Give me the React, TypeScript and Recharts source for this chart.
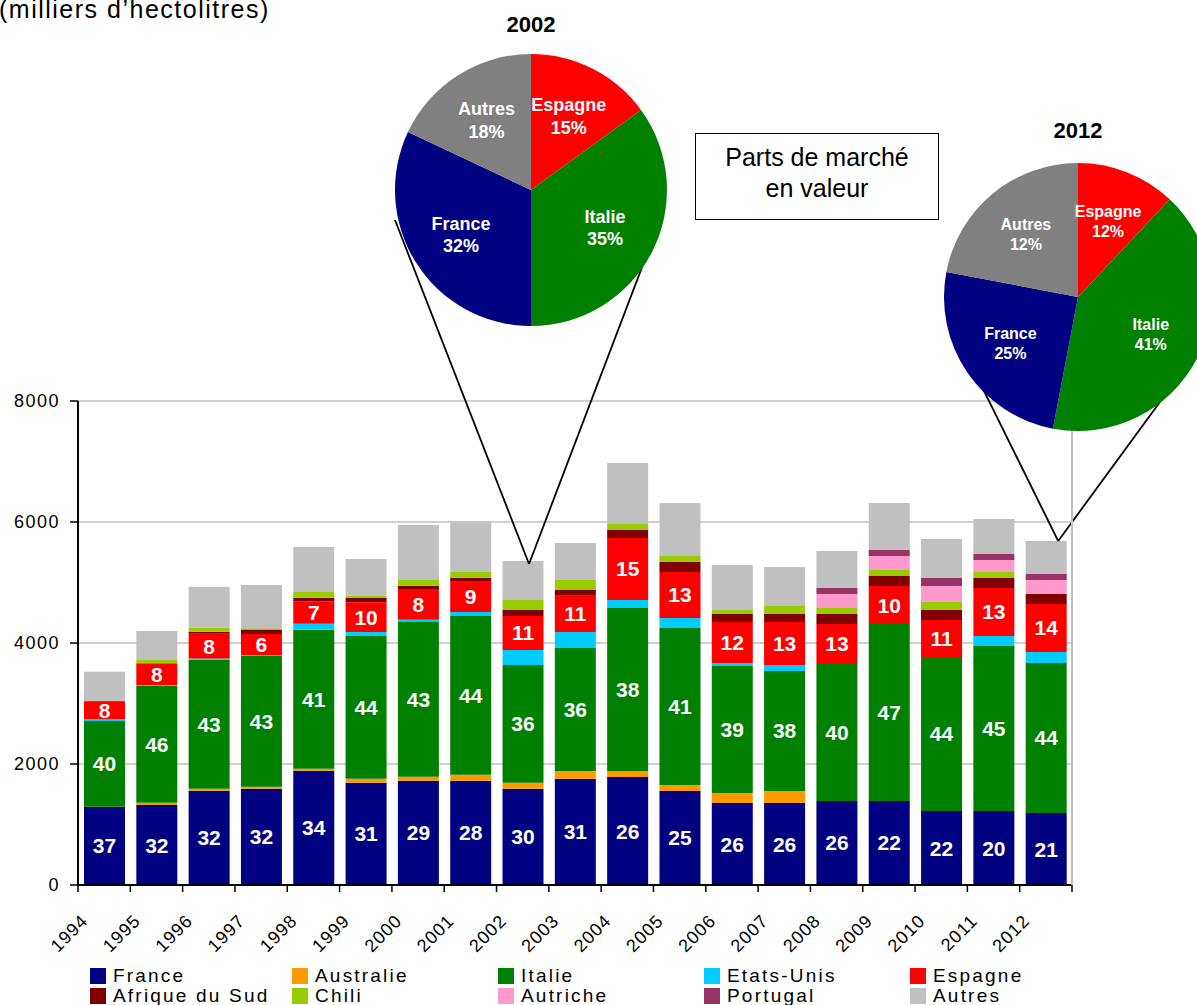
import React from "react";
import { BarChart, Bar, XAxis, YAxis, CartesianGrid, Legend, LabelList, PieChart, Pie, Cell } from "recharts";

// volumes in milliers d'hectolitres
const years = ["1994", "1995", "1996", "1997", "1998", "1999", "2000", "2001", "2002", "2003", "2004", "2005", "2006", "2007", "2008", "2009", "2010", "2011", "2012"];
const france = [1295, 1322, 1557, 1592, 1889, 1692, 1725, 1725, 1592, 1758, 1785, 1554, 1355, 1355, 1389, 1389, 1223, 1223, 1190];
const australie = [0, 39, 35, 33, 34, 66, 66, 99, 100, 126, 99, 99, 166, 199, 0, 0, 0, 0, 0];
const italie = [1416, 1934, 2133, 2160, 2298, 2358, 2556, 2623, 1945, 2034, 2695, 2595, 2099, 1983, 2264, 2925, 2546, 2727, 2480];
const etatsUnis = [33, 11, 17, 17, 99, 66, 39, 66, 248, 264, 132, 166, 50, 100, 0, 0, 0, 166, 182];
const espagne = [287, 358, 410, 346, 364, 491, 496, 500, 562, 600, 1025, 760, 677, 710, 661, 628, 611, 793, 793];
const afriqueDuSud = [15, 0, 33, 77, 66, 71, 66, 66, 99, 94, 132, 165, 133, 132, 166, 166, 166, 166, 165];
const chili = [0, 55, 66, 17, 93, 38, 94, 95, 165, 166, 99, 99, 66, 132, 99, 99, 132, 99, 0];
const autriche = [0, 0, 0, 0, 0, 0, 0, 0, 0, 0, 0, 0, 0, 0, 231, 231, 264, 198, 232];
const portugal = [0, 0, 0, 0, 0, 0, 0, 0, 0, 0, 0, 0, 0, 0, 99, 100, 133, 99, 99];
const autres = [480, 480, 678, 717, 744, 607, 909, 832, 645, 611, 1009, 876, 744, 644, 612, 776, 644, 579, 545];

// percentages printed inside the bars
const francePct = [37, 32, 32, 32, 34, 31, 29, 28, 30, 31, 26, 25, 26, 26, 26, 22, 22, 20, 21];
const italiePct = [40, 46, 43, 43, 41, 44, 43, 44, 36, 36, 38, 41, 39, 38, 40, 47, 44, 45, 44];
const espagnePct = [8, 8, 8, 6, 7, 10, 8, 9, 11, 11, 15, 13, 12, 13, 13, 10, 11, 13, 14];

const yTicks = [0, 2000, 4000, 6000, 8000];

// parts de marché en valeur
const pieNames = ["Espagne", "Italie", "France", "Autres"];
const pieColors = ["#ff0000", "#008000", "#000080", "#808080"];
const pie2002Values = [15, 35, 32, 18];
const pie2002Labels = ["15%", "35%", "32%", "18%"];
const pie2012Values = [12, 41, 25, 22];
const pie2012Labels = ["12%", "41%", "25%", "12%"];

const series = [
  { name: "France", color: "#000080", values: france, pct: francePct },
  { name: "Australie", color: "#ff9900", values: australie },
  { name: "Italie", color: "#008000", values: italie, pct: italiePct },
  { name: "Etats-Unis", color: "#00ccff", values: etatsUnis },
  { name: "Espagne", color: "#ff0000", values: espagne, pct: espagnePct },
  { name: "Afrique du Sud", color: "#800000", values: afriqueDuSud },
  { name: "Chili", color: "#99cc00", values: chili },
  { name: "Autriche", color: "#ff99cc", values: autriche },
  { name: "Portugal", color: "#993366", values: portugal },
  { name: "Autres", color: "#c0c0c0", values: autres },
];

const rows = years.map((year, i) => {
  const row: Record<string, string | number> = { year };
  series.forEach((s) => {
    row[s.name] = s.values[i];
    if (s.pct) row[s.name + "_pct"] = s.pct[i];
  });
  return row;
});

const W = 1197;
const H = 1005;
const PLOT_LEFT = 78;
const PLOT_RIGHT = 1072;
const BAND = (PLOT_RIGHT - PLOT_LEFT) / years.length;
const FONT = "'Liberation Sans', Arial, sans-serif";

// zoom lines from a bar top to the edges of its pie
const callouts = [
  { year: "2002", dx: 6, dy: 3, ends: [[395, 220], [660, 220]] },
  { year: "2012", dx: 12, dy: 0, ends: [[947, 316], [1187, 365]] },
];

const XTick = (props: any) => {
  const { x, y, payload, index } = props;
  const axisY = y - 7;
  const ax = x - 15;
  const ay = axisY + 37;
  const last = index === years.length - 1 || payload.value === years[years.length - 1];
  return (
    <g>
      <line x1={x - BAND / 2} x2={x - BAND / 2} y1={axisY} y2={axisY + 7} stroke="#000" strokeWidth={1.5} />
      {last && <line x1={x + BAND / 2} x2={x + BAND / 2} y1={axisY} y2={axisY + 7} stroke="#000" strokeWidth={1.5} />}
      <text x={ax} y={ay} textAnchor="end" fontSize={18} letterSpacing={1} fill="#000" transform={`rotate(-45 ${ax} ${ay})`}>
        {payload.value}
      </text>
    </g>
  );
};

const insideLabel = (props: any) => {
  const box = props.viewBox ?? props;
  const { x, y, width, height } = box;
  if (props.value === undefined || props.value === null) return null;
  return (
    <text x={x + width / 2} y={y + height / 2} fill="#fff" fontSize={21} fontWeight="bold" textAnchor="middle" dominantBaseline="central">
      {props.value}
    </text>
  );
};

const AutresShape = (props: any) => {
  const { x, y, width, height, fill, payload, index } = props;
  const year = payload?.year ?? years[index];
  const c = callouts.find((k) => k.year === year);
  return (
    <g>
      {height > 0 && <rect x={x} y={y} width={width} height={height} fill={fill} />}
      {c &&
        c.ends.map(([ex, ey], k) => (
          <line key={k} x1={x + width / 2 + c.dx} y1={y + c.dy} x2={ex} y2={ey} stroke="#000" strokeWidth={1.8} />
        ))}
    </g>
  );
};

const legendCols = [202, 206, 206, 206, 200];

// legend keeps the stacking order (row by row), not alphabetical
const LegendContent = () => (
  <div style={{ display: "grid", gridTemplateColumns: legendCols.map((c) => c + "px").join(" "), paddingLeft: 90 }}>
    {series.map((s) => (
      <div key={s.name} style={{ display: "flex", alignItems: "center", height: 20, fontSize: 19, lineHeight: "20px", letterSpacing: 2.2, whiteSpace: "nowrap", color: "#000" }}>
        <span style={{ width: 16, height: 16, background: s.color, marginRight: 7, flex: "none" }} />
        <span>{s.name}</span>
      </div>
    ))}
  </div>
);

const RADIAN = Math.PI / 180;

function MarketPie({ title, values, labels, cx, cy, radius, labelSize, titleBaseline }: any) {
  const data = pieNames.map((name, i) => ({ name, value: values[i] }));
  const size = radius * 2 + 20;
  const renderLabel = (p: any) => {
    const r = p.outerRadius * 0.61;
    const lx = p.cx + r * Math.cos(-p.midAngle * RADIAN);
    const ly = p.cy + r * Math.sin(-p.midAngle * RADIAN);
    const gap = labelSize * 1.25;
    return (
      <text x={lx} y={ly} fill="#fff" fontSize={labelSize} fontWeight="bold" textAnchor="middle">
        <tspan x={lx} dy={-gap / 2 + labelSize * 0.35}>{pieNames[p.index]}</tspan>
        <tspan x={lx} dy={gap}>{labels[p.index]}</tspan>
      </text>
    );
  };
  return (
    <>
      <div style={{ position: "absolute", left: cx - 100, top: titleBaseline - 18.6, width: 200, textAlign: "center", fontSize: 22, lineHeight: "22px", fontWeight: "bold" }}>
        {title}
      </div>
      <div style={{ position: "absolute", left: cx - size / 2, top: cy - size / 2, width: size, height: size }}>
        <PieChart width={size} height={size} margin={{ top: 0, right: 0, bottom: 0, left: 0 }}>
          <Pie
            data={data}
            dataKey="value"
            nameKey="name"
            cx="50%"
            cy="50%"
            outerRadius={radius}
            startAngle={90}
            endAngle={-270}
            stroke="none"
            labelLine={false}
            label={renderLabel}
            isAnimationActive={false}
          >
            {data.map((d, i) => (
              <Cell key={d.name} fill={pieColors[i]} />
            ))}
          </Pie>
        </PieChart>
      </div>
    </>
  );
}

export default function App() {
  return (
    <div style={{ position: "absolute", left: 0, top: 0, width: W, height: H, overflow: "hidden", background: "#fff", fontFamily: FONT }}>
      <BarChart width={W} height={H} data={rows} barSize={41} margin={{ top: 401, right: W - PLOT_RIGHT - 1, bottom: 0, left: 0 }}>
        <CartesianGrid vertical={false} stroke="#c0c0c0" strokeWidth={1.5} />
        <XAxis
          dataKey="year"
          height={120}
          interval={0}
          tickLine={false}
          tickSize={7}
          tickMargin={0}
          axisLine={{ stroke: "#000", strokeWidth: 2 }}
          tick={<XTick />}
        />
        <YAxis
          domain={[0, 8000]}
          ticks={yTicks}
          width={PLOT_LEFT}
          tickSize={8}
          tickMargin={10}
          axisLine={{ stroke: "#000", strokeWidth: 2 }}
          tickLine={{ stroke: "#000", strokeWidth: 1.5 }}
          tick={{ fill: "#000", fontSize: 18, letterSpacing: 1.5 }}
        />
        <YAxis yAxisId="frame" orientation="right" domain={[0, 8000]} width={1} tick={false} tickLine={false} axisLine={{ stroke: "#c0c0c0", strokeWidth: 2 }} />
        <Legend
          verticalAlign="middle"
          align="center"
          layout="horizontal"
          content={<LegendContent />}
          wrapperStyle={{ left: 0, top: 966, width: W }}
        />
        {series.map((s) => (
          <Bar
            key={s.name}
            dataKey={s.name}
            name={s.name}
            stackId="vol"
            fill={s.color}
            isAnimationActive={false}
            shape={s.name === "Autres" ? AutresShape : undefined}
          >
            {s.pct && <LabelList dataKey={s.name + "_pct"} content={insideLabel} />}
          </Bar>
        ))}
      </BarChart>

      <div style={{ position: "absolute", left: -1, top: -3, fontSize: 25, lineHeight: "25px", letterSpacing: 1.5, whiteSpace: "nowrap" }}>
        (milliers d’hectolitres)
      </div>

      <MarketPie title="2002" values={pie2002Values} labels={pie2002Labels} cx={531} cy={190} radius={136} labelSize={18} titleBaseline={33} />
      <MarketPie title="2012" values={pie2012Values} labels={pie2012Labels} cx={1078} cy={297} radius={134} labelSize={16} titleBaseline={139} />

      <div
        style={{
          position: "absolute",
          left: 695,
          top: 133,
          width: 244,
          height: 87,
          boxSizing: "border-box",
          border: "1.5px solid #000",
          paddingTop: 8,
          textAlign: "center",
          fontSize: 25,
          lineHeight: "31px",
          background: "#fff",
        }}
      >
        Parts de marché
        <br />
        en valeur
      </div>
    </div>
  );
}
